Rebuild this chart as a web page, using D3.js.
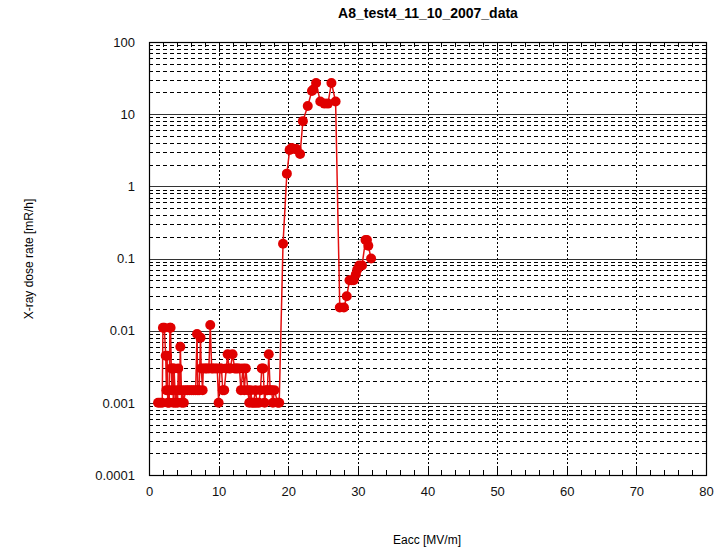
<!DOCTYPE html>
<html><head><meta charset="utf-8">
<script src="https://cdn.jsdelivr.net/npm/d3@7"></script>
<style>body{margin:0;background:#fff;}svg{display:block;font-family:"Liberation Sans",Arial,sans-serif;}</style>
</head><body>
<script>
const title = "A8_test4_11_10_2007_data";
const xLabel = "Eacc [MV/m]";
const yLabel = "X-ray dose rate [mR/h]";
const xTicks = [0,10,20,30,40,50,60,70,80];
const yTicks = [0.0001,0.001,0.01,0.1,1,10,100];
const yTickLabels = ["0.0001","0.001","0.01","0.1","1","10","100"];
const eacc = [1.3,1.6,1.9,2.0,2.2,2.4,2.5,2.6,2.7,2.8,2.9,3.0,3.1,3.2,3.3,3.4,3.5,3.6,3.8,3.9,4.1,4.2,4.4,4.5,4.7,4.8,5.0,5.2,5.5,5.8,6.1,6.4,6.7,6.9,7.0,7.2,7.4,7.5,7.7,7.8,8.1,8.3,8.6,8.8,9.0,9.2,9.5,9.8,10.0,10.2,10.4,10.6,10.8,11.1,11.3,11.5,11.7,12.0,12.3,12.5,12.7,13.0,13.2,13.5,13.7,13.9,14.2,14.4,14.6,14.8,15.0,15.3,15.5,15.8,16.0,16.2,16.4,16.6,16.8,17.0,17.2,17.4,17.6,17.8,18.0,18.5,18.7,19.25,19.8,20.2,20.5,20.9,21.2,21.7,22.1,22.8,23.4,23.6,24.0,24.6,25.2,25.7,26.2,26.8,27.4,28.0,28.4,28.8,29.1,29.4,29.7,29.9,30.2,30.6,31.1,31.3,31.5,31.9];
const dose = [0.001,0.001,0.001,0.011,0.011,0.0045,0.0015,0.0045,0.001,0.0015,0.001,0.011,0.011,0.003,0.0015,0.003,0.001,0.003,0.001,0.0015,0.001,0.003,0.0015,0.006,0.001,0.0015,0.001,0.0015,0.0015,0.0015,0.0015,0.0015,0.0015,0.009,0.0015,0.0015,0.008,0.003,0.0015,0.003,0.003,0.003,0.003,0.012,0.003,0.003,0.003,0.003,0.001,0.003,0.003,0.0015,0.0015,0.003,0.0047,0.003,0.003,0.0047,0.003,0.003,0.003,0.003,0.0015,0.003,0.0015,0.003,0.0015,0.001,0.0015,0.001,0.001,0.0015,0.001,0.001,0.0015,0.003,0.003,0.001,0.0015,0.0015,0.0047,0.0015,0.0015,0.001,0.0015,0.001,0.001,0.16,1.5,3.2,3.4,3.3,3.3,2.8,8,13,21,22,27,15,14,14,27,15,0.021,0.021,0.03,0.05,0.05,0.05,0.06,0.07,0.08,0.08,0.18,0.18,0.15,0.1];

const W=724,H=551;
const m={l:149,r:706,t:42,b:475};
const svg=d3.select("body").append("svg").attr("width",W).attr("height",H);
const x=d3.scaleLinear().domain([0,80]).range([m.l,m.r]);
const y=d3.scaleLog().domain([0.0001,100]).range([m.b,m.t]);

// horizontal grid
const g=svg.append("g");
for(let d=-4; d<2; d++){
  for(let k=2;k<=9;k++){
    const v=k*Math.pow(10,d);
    g.append("line").attr("x1",m.l).attr("x2",m.r).attr("y1",Math.round(y(v))+0.5).attr("y2",Math.round(y(v))+0.5)
     .attr("stroke","#000").attr("stroke-width",1).attr("stroke-dasharray","4,3");
  }
}
yTicks.forEach(v=>{
  g.append("line").attr("x1",m.l).attr("x2",m.r).attr("y1",Math.round(y(v))+0.5).attr("y2",Math.round(y(v))+0.5)
   .attr("stroke","#333").attr("stroke-width",1);
});
// vertical grid
xTicks.slice(1,-1).forEach(v=>{
  g.append("line").attr("x1",Math.round(x(v))+0.5).attr("x2",Math.round(x(v))+0.5).attr("y1",m.t).attr("y2",m.b)
   .attr("stroke","#000").attr("stroke-width",1).attr("stroke-dasharray","2,2");
});
// minor ticks x (inward, top & bottom)
for(let v=2; v<80; v+=2){
  const len = v%10===0?9:5;
  const px=Math.round(x(v))+0.5;
  g.append("line").attr("x1",px).attr("x2",px).attr("y1",m.b).attr("y2",m.b-len).attr("stroke","#000");
  g.append("line").attr("x1",px).attr("x2",px).attr("y1",m.t).attr("y2",m.t+len).attr("stroke","#000");
}
// border
svg.append("rect").attr("x",m.l+0.5).attr("y",m.t+0.5).attr("width",m.r-m.l).attr("height",m.b-m.t)
  .attr("fill","none").attr("stroke","#000").attr("stroke-width",1.2);

// axes labels
const xa=svg.append("g").attr("transform",`translate(0,${m.b})`)
  .call(d3.axisBottom(x).tickValues(xTicks).tickSize(0).tickPadding(12));
xa.select(".domain").remove();
xa.selectAll("text").attr("font-size",13).attr("fill","#111").attr("font-family","Liberation Sans, Arial, sans-serif");
const ya=svg.append("g").attr("transform",`translate(${m.l},0)`)
  .call(d3.axisLeft(y).tickValues(yTicks).tickFormat((d,i)=>yTickLabels[i]).tickSize(0).tickPadding(14));
ya.select(".domain").remove();
ya.selectAll("text").attr("font-size",13).attr("fill","#111").attr("font-family","Liberation Sans, Arial, sans-serif");

// data
const data=eacc.map((e,i)=>({x:e,y:dose[i]}));
svg.append("path").datum(data).attr("fill","none").attr("stroke","#e41010").attr("stroke-width",1.5)
  .attr("d",d3.line().x(d=>x(d.x)).y(d=>y(d.y)));
svg.append("g").selectAll("circle").data(data).join("circle")
  .attr("cx",d=>x(d.x)).attr("cy",d=>y(d.y)).attr("r",5).attr("fill","#e00000");

// titles
svg.append("text").attr("x",428).attr("y",18).attr("text-anchor","middle").attr("font-size",14).attr("font-weight","bold").text(title);
svg.append("text").attr("x",427).attr("y",544).attr("text-anchor","middle").attr("font-size",12).text(xLabel);
svg.append("text").attr("transform","translate(33,259) rotate(-90)").attr("text-anchor","middle").attr("font-size",12).text(yLabel);
</script>
</body></html>
